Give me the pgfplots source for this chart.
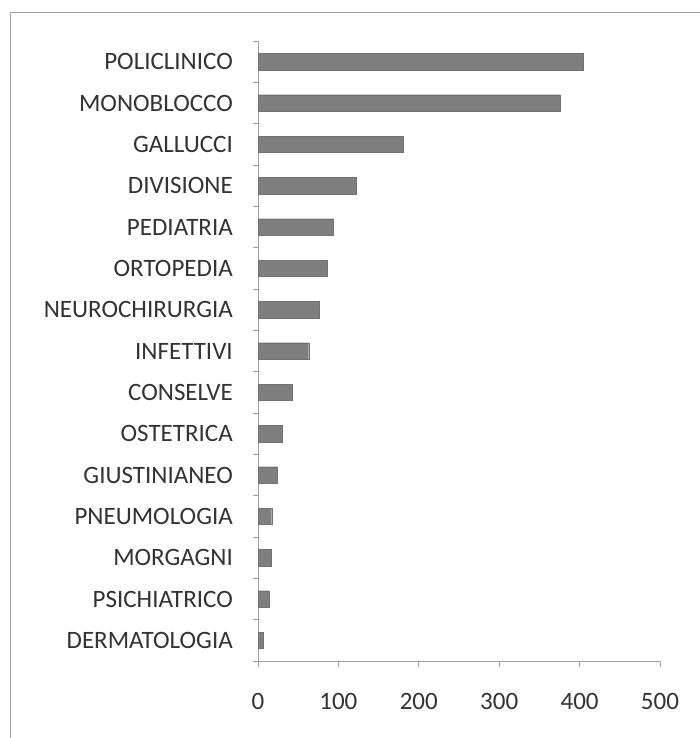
\documentclass[border=0pt]{standalone}
\usepackage{pgfplots}
\pgfplotsset{compat=1.18}
\usepackage{fontspec}
\setmainfont{Carlito}
\definecolor{txt}{HTML}{333333}
\definecolor{bar}{HTML}{7F7F7F}
\definecolor{axl}{HTML}{A0A0A0}
\begin{document}
\begin{tikzpicture}[x=1pt,y=1pt]
\useasboundingbox (0,0) rectangle (700,738);
\fill[white] (0,0) rectangle (700,738);
\draw[axl, line width=0.8pt] (10,0) -- (10,726) -- (700,726);
\begin{axis}[
  at={(258pt,77pt)}, anchor=south west,
  scale only axis, width=402pt, height=620pt,
  xmin=0, xmax=500, ymin=-0.5, ymax=14.5,
  xbar, bar width=16.5pt,
  axis lines*=left,
  axis line style={axl, line width=0.8pt},
  xtick={0,100,200,300,400,500},
  ytick={0,...,14},
  yticklabels={DERMATOLOGIA,PSICHIATRICO,MORGAGNI,PNEUMOLOGIA,GIUSTINIANEO,OSTETRICA,CONSELVE,INFETTIVI,NEUROCHIRURGIA,ORTOPEDIA,PEDIATRIA,DIVISIONE,GALLUCCI,MONOBLOCCO,POLICLINICO},
  minor ytick={-0.5,0.5,...,14.5},
  major tick length=0pt,
  minor tick length=5pt,
  extra x ticks={0,100,200,300,400,500},
  extra x tick labels={},
  extra x tick style={major tick length=6pt, tick align=outside, tick style={axl, line width=0.8pt}},
  tick align=outside,
  tick style={axl, line width=0.8pt},
  minor tick style={axl, line width=0.8pt},
  /pgf/number format/assume math mode=true,
  y tick label style={anchor=east, inner sep=0pt, xshift=-25pt, font=\fontsize{25}{30}\selectfont, text=txt},
  x tick label style={anchor=north, inner sep=0pt, yshift=-32pt, font=\fontsize{25}{30}\selectfont, text=txt},
  clip=false,
]
\addplot[fill=bar, draw=bar!90!black, line width=0.3pt] coordinates {
  (6,0) (14,1) (16,2) (17,3) (24,4) (30,5) (43,6) (63,7) (76,8)
  (86,9) (94,10) (122,11) (181,12) (376,13) (405,14)
};
\end{axis}
\end{tikzpicture}
\end{document}
